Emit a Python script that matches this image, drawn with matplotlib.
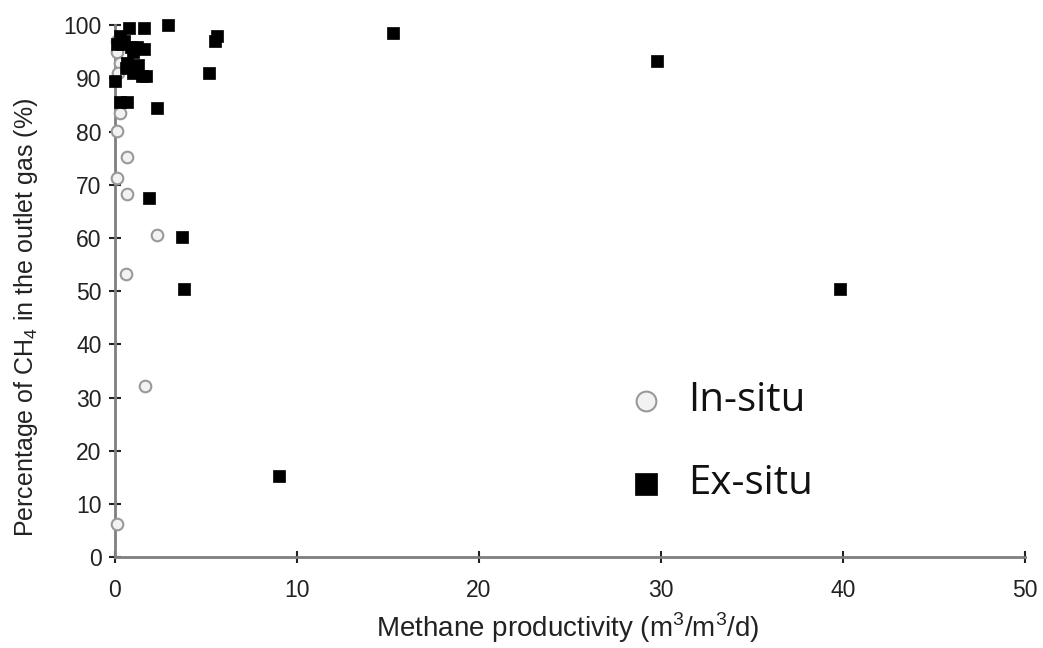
import matplotlib
matplotlib.use("Agg")
import matplotlib.pyplot as plt

plt.rcParams['font.family'] = ['Liberation Sans', 'DejaVu Sans']

insitu_x = [0.1, 0.3, 0.2, 0.3, 0.1, 0.7, 0.1, 0.7, 2.3, 0.6, 1.65, 0.15, 0.1]
insitu_y = [95.0, 93.0, 91.0, 83.5, 80.2, 75.3, 71.2, 68.3, 60.5, 53.2, 32.2, 6.2, 97.0]

exsitu_x = [0.1, 0.3, 0.5, 0.8, 1.6, 2.9, 0.4, 0.9, 1.2, 1.6, 1.0, 0.7, 1.3, 0.6,
            1.0, 1.5, 1.7, 0.0, 0.3, 0.7, 2.3, 5.2, 5.5, 5.6, 15.3, 29.8, 1.9,
            3.7, 3.8, 39.8, 9.0]
exsitu_y = [96.5, 98.0, 97.0, 99.5, 99.5, 100.0, 96.5, 96.0, 96.0, 95.5, 95.0, 93.0,
            92.5, 92.0, 91.0, 90.5, 90.5, 89.5, 85.5, 85.5, 84.5, 91.0, 97.0, 98.0,
            98.5, 93.3, 67.5, 60.2, 50.5, 50.5, 15.3]

xticks = [0, 10, 20, 30, 40, 50]
yticks = [0, 10, 20, 30, 40, 50, 60, 70, 80, 90, 100]

fig = plt.figure(figsize=(10.43, 6.48), dpi=100)
ax = fig.add_axes([0.110, 0.140, 0.873, 0.821])

ax.scatter(insitu_x, insitu_y, s=70, marker='o', facecolor='#f2f2f2',
           edgecolor='#999999', linewidths=1.5, clip_on=False, zorder=3, label='In-situ')
ax.scatter(exsitu_x, exsitu_y, s=85, marker='s', facecolor='black',
           edgecolor='black', linewidths=0.5, clip_on=False, zorder=4, label='Ex-situ')

ax.set_xlim(0, 50)
ax.set_ylim(0, 100)
ax.set_xticks(xticks)
ax.set_yticks(yticks)

for side in ['top', 'right']:
    ax.spines[side].set_visible(False)
for side in ['left', 'bottom']:
    ax.spines[side].set_color('#7f7f7f')
    ax.spines[side].set_linewidth(2.0)

ax.tick_params(axis='both', direction='inout', length=9, width=1.5, color='#222222',
               labelsize=16.5, labelcolor='#222222')
ax.tick_params(axis='y', pad=5)
ax.tick_params(axis='x', pad=11)

ax.set_xlabel('Methane productivity (m$^\\mathregular{3}$/m$^\\mathregular{3}$/d)',
              fontsize=20, color='#222222')
ax.set_ylabel('Percentage of CH$_\\mathregular{4}$ in the outlet gas (%)',
              fontsize=18, color='#222222')
ax.xaxis.set_label_coords(0.498, -0.100)
ax.yaxis.set_label_coords(-0.082, 0.45)

leg = ax.legend(loc='center left', bbox_to_anchor=(0.600, 0.317), bbox_transform=fig.transFigure,
                frameon=False, prop={'family': 'Open Sans', 'size': 29},
                labelspacing=1.05, handletextpad=0.55, handlelength=1.0,
                markerscale=1.7, borderpad=0, borderaxespad=0)
for t in leg.get_texts():
    t.set_color('#111111')

fig.savefig('out.png', dpi=100)
